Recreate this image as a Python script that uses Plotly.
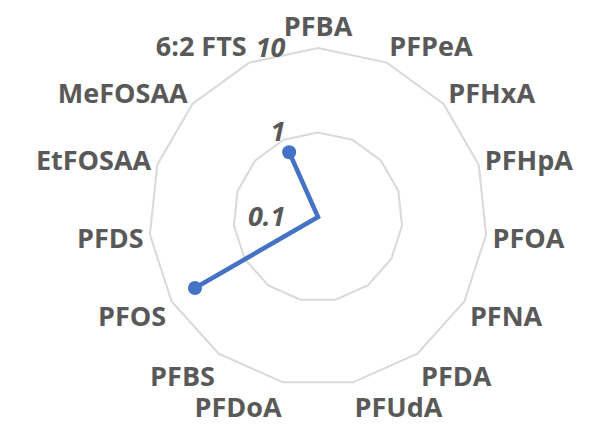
import math
import plotly.graph_objects as go

categories = ["PFBA", "PFPeA", "PFHxA", "PFHpA", "PFOA", "PFNA", "PFDA", "PFUdA",
              "PFDoA", "PFBS", "PFOS", "PFDS", "EtFOSAA", "MeFOSAA", "6:2 FTS"]
values = [0, 0, 0, 0, 0, 0, 0, 0, 0, 0, 4.8, 0, 0, 0, 0.69]
tick_vals = [0.1, 1, 10]
tick_text = ["0.1", "1", "10"]

# log10 scale measured from the axis minimum (0.1); zeros sit at the centre
axis_min = tick_vals[0]


def to_log(v):
    return math.log10(v) - math.log10(axis_min) if v > 0 else 0.0


r_plot = [to_log(v) for v in values]
r_ticks = [to_log(t) for t in tick_vals]
# close the loop as Excel radar does
theta_c = categories + categories[:1]
r_c = r_plot + r_plot[:1]

pt_theta = [c for c, v in zip(categories, values) if v > 0]
pt_r = [to_log(v) for v in values if v > 0]

blue = "#4472C4"
fig = go.Figure()
fig.add_trace(go.Scatterpolar(
    r=r_c, theta=theta_c, mode="lines",
    line=dict(color=blue, width=4.5),
    showlegend=False, hoverinfo="skip",
))
fig.add_trace(go.Scatterpolar(
    r=pt_r, theta=pt_theta, mode="markers",
    marker=dict(color=blue, size=14),
    customdata=[v for v in values if v > 0],
    hovertemplate="%{theta}: %{customdata}<extra></extra>",
    showlegend=False,
))

grey = "#595959"
fig.update_layout(
    width=598, height=427,
    margin=dict(l=141, r=119, t=40, b=49),
    paper_bgcolor="white",
    polar=dict(
        bgcolor="white",
        gridshape="linear",
        domain=dict(x=[0, 1], y=[0, 1]),
        angularaxis=dict(
            direction="clockwise", rotation=90,
            categoryorder="array", categoryarray=categories,
            showgrid=False, showline=True, linecolor="#D9D9D9", linewidth=2,
            ticks="", tickfont=dict(family="Open Sans", size=27, color=grey, weight="bold"),
        ),
        radialaxis=dict(
            type="linear", range=[r_ticks[0], r_ticks[-1]], angle=90, tickangle=90,
            side="counterclockwise",
            tickvals=r_ticks, ticktext=[t + "\u00a0" * 4 for t in tick_text],
            showline=False, ticks="",
            gridcolor="#D9D9D9", gridwidth=2,
            tickfont=dict(family="Open Sans", size=27, color=grey, weight="bold", style="italic"),
        ),
    ),
)

fig.write_html("out.html")
